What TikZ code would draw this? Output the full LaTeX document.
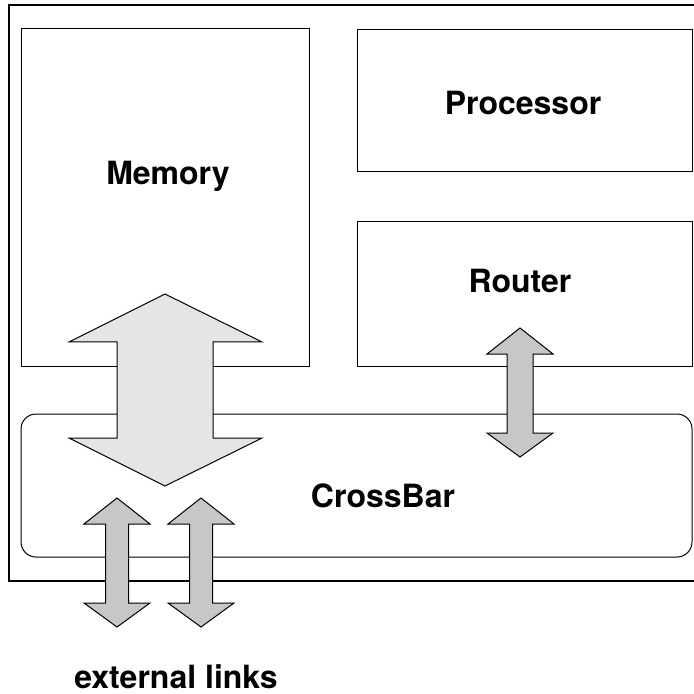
\documentclass[tikz,border=0pt]{standalone}
\usepackage{fontspec}
\setmainfont{TeX Gyre Heros}
\usetikzlibrary{positioning}

\begin{document}
\begin{tikzpicture}[x=0.5pt, y=-0.5pt, line join=miter,
  box/.style={draw, line width=0.5pt},
  label/.style={font=\fontsize{16}{19}\selectfont\bfseries, anchor=base, inner sep=0pt},
  widearrow/.style={draw, line width=0.5pt, fill=black!10},
  thinarrow/.style={draw, line width=0.5pt, fill=black!22}]
  \useasboundingbox (0,0) rectangle (693,694);

  % outer frame
  \draw[line width=1pt] (9,5) rectangle (697,581);

  % blocks
  \draw[box] (21,29) rectangle (309,366);
  \node[label] (memory) at (168,185) {Memory};
  \draw[box] (357,30) rectangle (692,172);
  \node[label] (processor) at (523,115) {Processor};
  \draw[box] (357,222) rectangle (692,366);
  \node[label] (router) at (520,293) {Router};
  \draw[box, rounded corners=7.5pt] (21,414) rectangle (692,557);
  \node[label] (crossbar) at (383,507) {CrossBar};

  % memory <-> crossbar
  \draw[widearrow] (165,294) -- (262,342) -- (213,342) -- (213,438) -- (262,438)
    -- (165,486) -- (69,438) -- (117,438) -- (117,342) -- (69,342) -- cycle;

  % router <-> crossbar
  \draw[thinarrow] (520,328) -- (553,354) -- (533,354) -- (533,433) -- (553,433)
    -- (520,457) -- (487,433) -- (507,433) -- (507,354) -- (487,354) -- cycle;

  % external links
  \foreach \cx in {117,201} {
    \draw[thinarrow] (\cx,498) -- (\cx+33,524) -- (\cx+11.5,524) -- (\cx+11.5,603)
      -- (\cx+33,603) -- (\cx,627) -- (\cx-33,603) -- (\cx-11.5,603)
      -- (\cx-11.5,524) -- (\cx-33,524) -- cycle;
  }
  \node[label] (extlinks) at (176,688) {external links};
\end{tikzpicture}
\end{document}
